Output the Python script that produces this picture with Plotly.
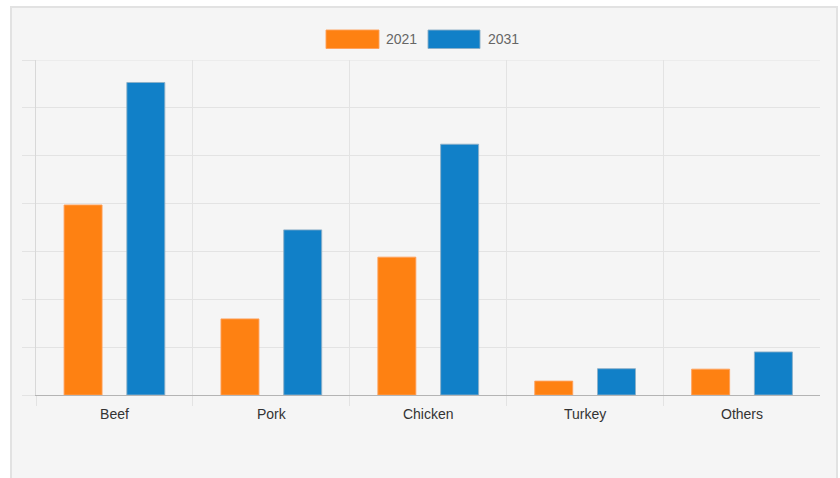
import plotly.graph_objects as go

categories = ["Beef", "Pork", "Chicken", "Turkey", "Others"]
series_names = ["2021", "2031"]
values_2021 = [39.7, 15.9, 28.8, 2.9, 5.4]
values_2031 = [65.3, 34.5, 52.4, 5.5, 9.0]
series_values = [values_2021, values_2031]
colors = ["#fe8112", "#1180c8"]
edge_colors = ["rgba(255,160,90,0.9)", "rgba(140,175,200,0.9)"]
y_max = 70

fig = go.Figure()
for name, vals, col, edge in zip(series_names, series_values, colors, edge_colors):
    fig.add_trace(go.Bar(
        x=categories, y=vals, name=name,
        marker=dict(color=col, line=dict(color=edge, width=1)),
        hoverinfo="x+y+name",
    ))

# Outer panel (background + border)
W, H = 840, 478
ml, mr, mt, mb = 36, 20, 60, 83
pw, ph = W - ml - mr, H - mt - mb

def px_x(p):
    return (p - ml) / pw

def px_y(p):
    return (H - mb - p) / ph

shapes = [dict(type="rect", xref="paper", yref="paper",
               x0=px_x(11), x1=px_x(837), y0=px_y(500), y1=px_y(7),
               fillcolor="#f5f5f5", line=dict(color="#e2e2e2", width=2),
               layer="below"),
          # top gridline (plotly omits the one at the range end)
          dict(type="line", xref="paper", yref="y", x0=0, x1=1, y0=y_max, y1=y_max,
               line=dict(color="#e3e3e3", width=1), layer="below")]

# Custom wide legend swatches
legend_pos = [(326, 379, 384), (428, 480, 486)]
annotations = []
for (sx0, sx1, tx), name, col, edge in zip(legend_pos, series_names, colors, edge_colors):
    shapes.append(dict(type="rect", xref="paper", yref="paper",
                       x0=px_x(sx0), x1=px_x(sx1), y0=px_y(48.5), y1=px_y(30),
                       fillcolor=col, line=dict(color=edge, width=1)))
    annotations.append(dict(xref="paper", yref="paper", x=px_x(tx), y=px_y(39.5),
                            text=name, showarrow=False, xanchor="left", yanchor="middle",
                            font=dict(size=14, color="#666666")))

fig.update_layout(
    width=W, height=H,
    margin=dict(l=ml, r=mr, t=mt, b=mb, pad=0),
    paper_bgcolor="white",
    plot_bgcolor="rgba(0,0,0,0)",
    showlegend=False,
    barmode="group",
    bargap=0.2,
    bargroupgap=0.395,
    font=dict(family="Liberation Sans, Arial, sans-serif", size=14, color="#333333"),
    shapes=shapes,
    annotations=annotations,
    xaxis=dict(
        type="category", tickson="boundaries",
        showgrid=True, gridcolor="#e3e3e3", gridwidth=1,
        ticks="outside", ticklen=10, tickcolor="#e3e3e3",
        ticklabelstandoff=6,
        showline=True, linecolor="#b4b4b4", linewidth=1,
        tickfont=dict(size=14, color="#333333"),
        range=[-0.5, 4.497], fixedrange=True,
    ),
    yaxis=dict(
        range=[0, y_max], dtick=10, tick0=0,
        showgrid=True, gridcolor="#e3e3e3", gridwidth=1,
        ticks="outside", ticklen=13, tickcolor="#e3e3e3",
        showticklabels=False,
        showline=True, linecolor="#d8d8d8", linewidth=1,
        zeroline=False, fixedrange=True,
    ),
)

fig.write_html("out.html")
